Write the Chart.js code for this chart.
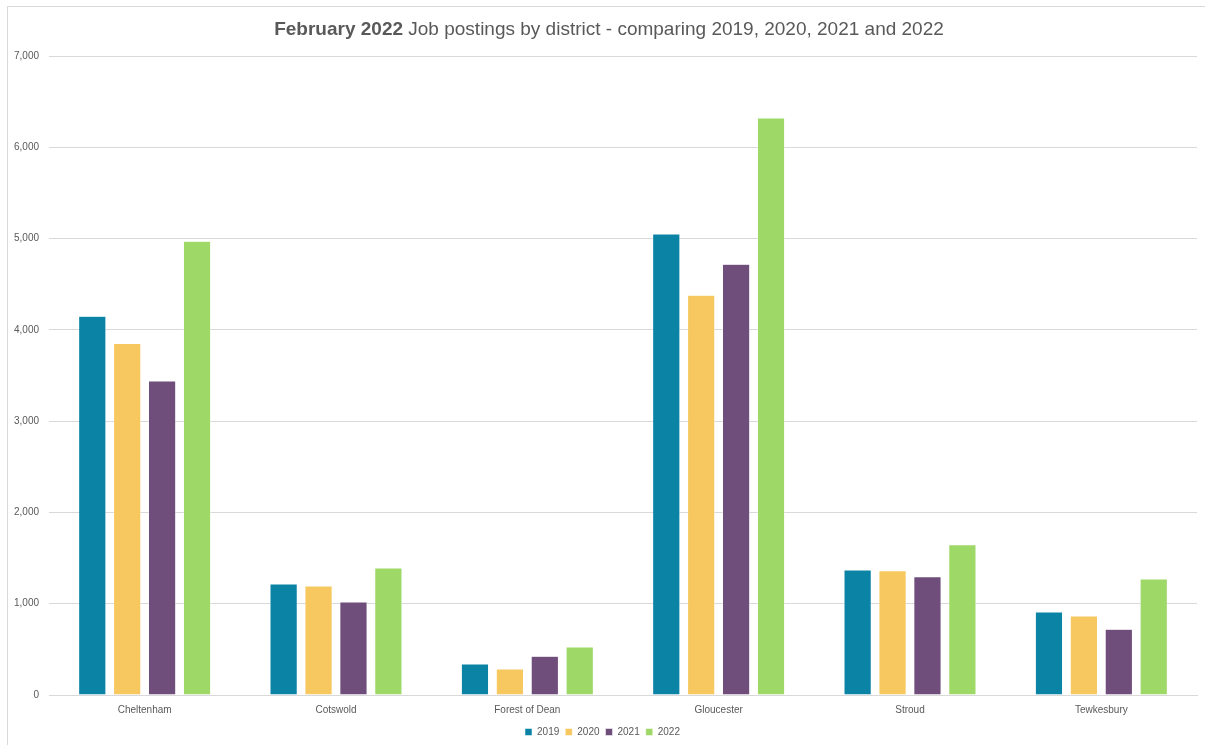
<!DOCTYPE html>
<html>
<head>
<meta charset="utf-8">
<script src="https://cdn.jsdelivr.net/npm/chart.js@4/dist/chart.umd.min.js"></script>
<style>
html,body{margin:0;padding:0;background:#fff;}
#wrap{position:relative;width:1205px;height:745px;}
</style>
</head>
<body>
<div id="wrap"><canvas id="c" width="1205" height="745"></canvas></div>
<script>
const categories = ["Cheltenham", "Cotswold", "Forest of Dean", "Gloucester", "Stroud", "Tewkesbury"];
const seriesNames = ["2019", "2020", "2021", "2022"];
const values2019 = [4150, 1215, 340, 5050, 1370, 910];
const values2020 = [3850, 1195, 285, 4380, 1360, 865];
const values2021 = [3440, 1020, 425, 4720, 1295, 720];
const values2022 = [4970, 1390, 525, 6320, 1645, 1270];
const seriesColors = ["#0A83A5", "#F6C85F", "#6F4E7C", "#9ED867"];
const titleBold = "February 2022";
const titleRest = " Job postings by district - comparing 2019, 2020, 2021 and 2022";

const FONT = "'Liberation Sans', 'Open Sans', sans-serif";

const frame = {
  id: 'frame',
  beforeDraw(chart) {
    const ctx = chart.ctx;
    ctx.save();
    ctx.fillStyle = '#fff';
    ctx.fillRect(0, 0, chart.width, chart.height);
    ctx.strokeStyle = '#D9D9D9';
    ctx.lineWidth = 1;
    ctx.strokeRect(7.5, 6.5, chart.width + 10, chart.height + 10);
    ctx.restore();
  },
  afterDraw(chart) {
    const ctx = chart.ctx;
    ctx.save();
    ctx.fillStyle = '#595959';
    ctx.textBaseline = 'middle';
    const bf = "bold 19px " + FONT;
    const nf = "19px " + FONT;
    ctx.font = bf; const w1 = ctx.measureText(titleBold).width;
    ctx.font = nf; const w2 = ctx.measureText(titleRest).width;
    const x0 = 609 - (w1 + w2) / 2;
    ctx.font = bf; ctx.textAlign = 'left';
    ctx.fillText(titleBold, x0, 30);
    ctx.font = nf;
    ctx.fillText(titleRest, x0 + w1, 30);
    ctx.restore();
  }
};

const datasets = [values2019, values2020, values2021, values2022].map((v, i) => ({
  label: seriesNames[i],
  data: v,
  backgroundColor: seriesColors[i],
  borderColor: '#ffffff',
  borderWidth: 0.5,
  categoryPercentage: 0.73,
  barPercentage: 0.78
}));

new Chart(document.getElementById('c'), {
  type: 'bar',
  data: { labels: categories, datasets },
  options: {
    responsive: false,
    animation: false,
    layout: { padding: { left: 8, right: 8, top: 56, bottom: -2 } },
    plugins: {
      title: { display: false },
      tooltip: { enabled: false },
      legend: {
        position: 'bottom',
        labels: {
          boxWidth: 7, boxHeight: 7, padding: 6,
          color: '#595959',
          font: { family: FONT, size: 10 }
        }
      }
    },
    scales: {
      x: {
        afterFit(s) { s.height += 4; },
        grid: { display: false },
        border: { display: true, color: '#D9D9D9' },
        ticks: { color: '#595959', font: { family: FONT, size: 10 }, padding: 1, maxRotation: 0 }
      },
      y: {
        min: 0, max: 7000,
        afterFit(s) { s.width = 41; },
        grid: { color: '#D9D9D9', drawTicks: false },
        border: { display: false },
        ticks: {
          stepSize: 1000, color: '#595959', padding: 10,
          font: { family: FONT, size: 10 },
          callback: v => v.toLocaleString('en-US')
        }
      }
    }
  },
  plugins: [frame]
});
</script>
</body>
</html>
